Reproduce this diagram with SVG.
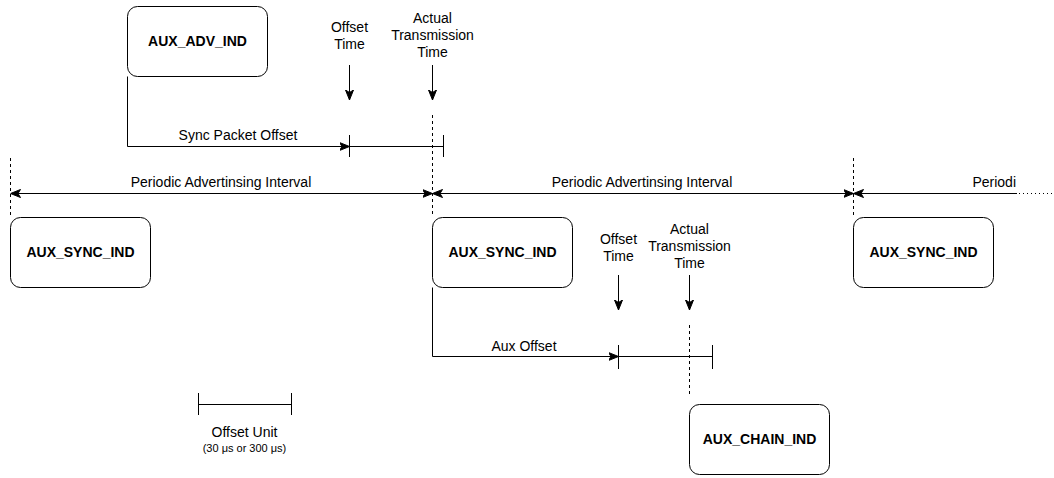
<svg xmlns="http://www.w3.org/2000/svg" width="1054" height="478" viewBox="0 0 1054 478">
  <style>
    .box { fill: #ffffff; stroke: #000000; stroke-width: 1; }
    .title { font-family: "Liberation Sans", Arial, sans-serif; font-size: 14px; font-weight: bold; fill: #000; text-anchor: middle; }
    .lbl { font-family: "Liberation Sans", Arial, sans-serif; font-size: 14px; fill: #000; text-anchor: middle; }
    .small { font-family: "Liberation Sans", Arial, sans-serif; font-size: 11px; fill: #000; text-anchor: middle; }
    .ln { fill: none; stroke: #000; stroke-width: 1; }
    .dash { fill: none; stroke: #000; stroke-width: 1; stroke-dasharray: 3 3; }
    .dot { fill: none; stroke: #000; stroke-width: 1; stroke-dasharray: 1 3; }
  </style>
  <defs>
    <marker id="arrow" viewBox="0 0 10 10" refX="10" refY="5" markerWidth="10" markerHeight="10" markerUnits="userSpaceOnUse" orient="auto-start-reverse">
      <path d="M0,1 L10,5 L0,9 L2.5,5 Z" fill="#000" stroke="#000" stroke-width="1"/>
    </marker>
  </defs>

  <!-- packet boxes -->
  <g id="aux-adv-ind">
    <rect class="box" x="127.5" y="6.5" width="140" height="70" rx="10"/>
    <text class="title" x="197.5" y="46">AUX_ADV_IND</text>
  </g>
  <g id="aux-sync-ind-1">
    <rect class="box" x="10.5" y="217.5" width="140" height="70" rx="10"/>
    <text class="title" x="80.5" y="257">AUX_SYNC_IND</text>
  </g>
  <g id="aux-sync-ind-2">
    <rect class="box" x="432.5" y="217.5" width="140" height="70" rx="10"/>
    <text class="title" x="502.5" y="257">AUX_SYNC_IND</text>
  </g>
  <g id="aux-sync-ind-3">
    <rect class="box" x="853.5" y="217.5" width="140" height="70" rx="10"/>
    <text class="title" x="923.5" y="257">AUX_SYNC_IND</text>
  </g>
  <g id="aux-chain-ind">
    <rect class="box" x="689.5" y="404.5" width="140" height="70" rx="10"/>
    <text class="title" x="759.5" y="444">AUX_CHAIN_IND</text>
  </g>

  <!-- timing labels -->
  <g id="labels">
    <text class="lbl" x="349.5" y="32">Offset</text>
    <text class="lbl" x="349.5" y="49">Time</text>
    <text class="lbl" x="432.5" y="23">Actual</text>
    <text class="lbl" x="432.5" y="40">Transmission</text>
    <text class="lbl" x="432.5" y="57">Time</text>
    <text class="lbl" x="238" y="140">Sync Packet Offset</text>
    <text class="lbl" x="221" y="187">Periodic Advertinsing Interval</text>
    <text class="lbl" x="642" y="187">Periodic Advertinsing Interval</text>
    <text class="lbl" x="1016" y="187" style="text-anchor:end">Periodi</text>
    <text class="lbl" x="618.5" y="244">Offset</text>
    <text class="lbl" x="618.5" y="261">Time</text>
    <text class="lbl" x="689.5" y="234">Actual</text>
    <text class="lbl" x="689.5" y="251">Transmission</text>
    <text class="lbl" x="689.5" y="268">Time</text>
    <text class="lbl" x="524" y="351">Aux Offset</text>
    <text class="lbl" x="244.5" y="437">Offset Unit</text>
    <text class="small" x="244.5" y="452">(30 μs or 300 μs)</text>
  </g>

  <!-- connectors and time markers -->
  <g id="connectors">
    <!-- Sync packet offset -->
    <path class="ln" d="M127.5,76.5 V146.5 H349.5" marker-end="url(#arrow)"/>
    <path class="ln" d="M349.5,146.5 H443.5"/>
    <path class="ln" d="M349.5,135 V157"/>
    <path class="ln" d="M443.5,135 V157"/>
    <path class="ln" d="M349.5,65 V100" marker-end="url(#arrow)"/>
    <path class="ln" d="M432.5,65 V100" marker-end="url(#arrow)"/>
    <path class="dash" d="M432.5,115 V217"/>

    <!-- periodic advertising intervals -->
    <path class="dash" d="M10.5,158 V217"/>
    <path class="dash" d="M853.5,158 V217"/>
    <path class="ln" d="M10.5,193.5 H432.5" marker-start="url(#arrow)" marker-end="url(#arrow)"/>
    <path class="ln" d="M432.5,193.5 H853.5" marker-start="url(#arrow)" marker-end="url(#arrow)"/>
    <path class="ln" d="M853.5,193.5 H1017" marker-start="url(#arrow)"/>
    <path class="dot" d="M1019,193.5 H1054"/>

    <!-- Aux offset -->
    <path class="ln" d="M432.5,287.5 V356.5 H618.5" marker-end="url(#arrow)"/>
    <path class="ln" d="M618.5,356.5 H712.5"/>
    <path class="ln" d="M618.5,345 V369"/>
    <path class="ln" d="M712.5,345 V369"/>
    <path class="ln" d="M618.5,275 V310" marker-end="url(#arrow)"/>
    <path class="ln" d="M689.5,275 V310" marker-end="url(#arrow)"/>
    <path class="dash" d="M689.5,325 V395"/>

    <!-- offset unit scale -->
    <path class="ln" d="M198.5,404.5 H291.5"/>
    <path class="ln" d="M198.5,393 V415"/>
    <path class="ln" d="M291.5,393 V415"/>
  </g>
</svg>
